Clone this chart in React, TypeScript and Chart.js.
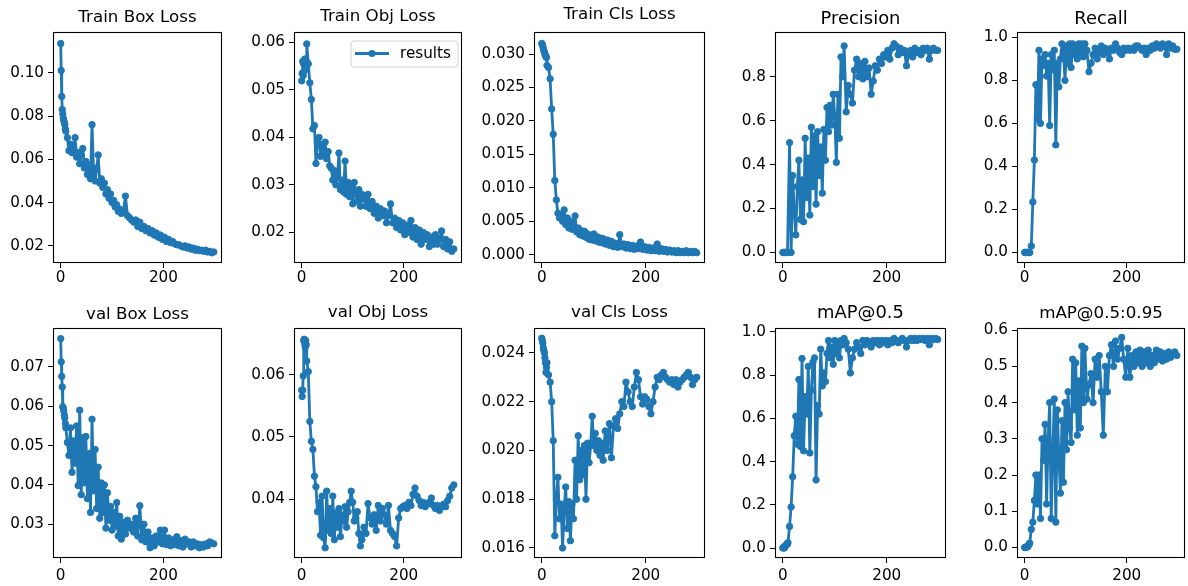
import React, { useEffect, useRef } from "react";
import { Chart, registerables } from "chart.js";

Chart.register(...registerables);

// ---------------- DATA ----------------
const EPOCHS = [
  0, 1, 2, 3, 4, 5, 6, 7, 8, 9,
  10, 13, 16, 19, 22, 25, 28, 31, 34, 37,
  40, 43, 46, 49, 52, 55, 58, 61, 64, 67,
  70, 73, 76, 79, 82, 85, 88, 91, 94, 97,
  100, 103, 106, 109, 112, 115, 118,
  122, 126, 130, 134, 138, 142, 146, 150, 154, 158,
  162, 166, 170, 174, 178, 182, 186, 190, 194, 198,
  202, 206, 210, 214, 218, 222, 226, 230, 234, 238,
  242, 246, 250, 254, 258, 262, 266, 270, 274, 278,
  282, 286, 290, 294, 298,
];

const TRAIN_BOX_LOSS = [
  0.1135, 0.101, 0.089, 0.083, 0.081, 0.079, 0.078, 0.077, 0.076, 0.074,
  0.073, 0.07, 0.064, 0.067, 0.063, 0.065, 0.07, 0.061, 0.063, 0.058,
  0.062, 0.065, 0.056, 0.059, 0.053, 0.057, 0.051, 0.076, 0.054, 0.05,
  0.056, 0.062, 0.049, 0.051, 0.047, 0.049, 0.044, 0.046, 0.042, 0.044,
  0.04, 0.041, 0.038, 0.039, 0.036, 0.037, 0.035,
  0.036, 0.043, 0.034, 0.033, 0.032, 0.031, 0.032, 0.029, 0.031, 0.028,
  0.029, 0.027, 0.028, 0.026, 0.027, 0.025, 0.026, 0.024, 0.025, 0.023,
  0.024, 0.022, 0.023, 0.0215, 0.022, 0.021, 0.0205, 0.0205, 0.02, 0.0195,
  0.02, 0.019, 0.0195, 0.0185, 0.019, 0.018, 0.0185, 0.0178, 0.018, 0.0175,
  0.018, 0.0172, 0.0175, 0.0168, 0.0172,
];

const TRAIN_OBJ_LOSS = [
  0.0519, 0.0535, 0.056, 0.053, 0.0555, 0.054, 0.0565, 0.055, 0.0545, 0.056,
  0.0597, 0.0555, 0.0515, 0.048, 0.0418, 0.0425, 0.0345, 0.0392, 0.04, 0.036,
  0.0385, 0.0365, 0.039, 0.0355, 0.037, 0.034, 0.0335, 0.031, 0.033, 0.03,
  0.0315, 0.0367, 0.029, 0.031, 0.0285, 0.035, 0.028, 0.0305, 0.0275, 0.0295,
  0.026, 0.0305, 0.028, 0.0265, 0.029, 0.0255, 0.028,
  0.027, 0.0255, 0.028, 0.025, 0.0265, 0.024, 0.0255, 0.023, 0.025, 0.0235,
  0.0245, 0.022, 0.0235, 0.026, 0.022, 0.023, 0.021, 0.0225, 0.0205, 0.022,
  0.0195, 0.0215, 0.02, 0.0225, 0.019, 0.021, 0.0185, 0.0205, 0.0175, 0.02,
  0.0185, 0.0195, 0.017, 0.019, 0.0175, 0.0195, 0.0175, 0.0185, 0.0203, 0.017,
  0.0185, 0.0165, 0.018, 0.016, 0.0165,
];

const TRAIN_CLS_LOSS = [
  0.0316, 0.0314, 0.0312, 0.0308, 0.0305, 0.0303, 0.03, 0.0298, 0.0296, 0.0295,
  0.0283, 0.028, 0.0263, 0.0218, 0.018, 0.0111, 0.0082, 0.0062, 0.0055, 0.006,
  0.005, 0.0067, 0.0045, 0.0055, 0.004, 0.005, 0.0038, 0.0043, 0.0058, 0.0034,
  0.004, 0.003, 0.0036, 0.0028, 0.0035, 0.0026, 0.0031, 0.0023, 0.0029, 0.0022,
  0.0031, 0.0021, 0.0027, 0.0019, 0.0025, 0.0018, 0.0024,
  0.0016, 0.0022, 0.0014, 0.002, 0.0012, 0.0017, 0.0011, 0.003, 0.0012, 0.0016,
  0.001, 0.0015, 0.0009, 0.0014, 0.0008, 0.0013, 0.0009, 0.0019, 0.0008, 0.0012,
  0.0007, 0.0011, 0.0006, 0.001, 0.0006, 0.0016, 0.0005, 0.0009, 0.0005, 0.0008,
  0.0004, 0.0007, 0.0004, 0.0006, 0.0003, 0.0006, 0.0003, 0.0005, 0.0003, 0.0006,
  0.0003, 0.0005, 0.0003, 0.0005, 0.0003,
];

const PRECISION = [
  0, 0, 0, 0, 0, 0, 0, 0, 0, 0,
  0, 0.5, 0.0, 0.35, 0.19, 0.08, 0.3, 0.42, 0.15, 0.33,
  0.14, 0.52, 0.25, 0.43, 0.17, 0.57, 0.3, 0.53, 0.22, 0.55,
  0.35, 0.48, 0.27, 0.56, 0.42, 0.66, 0.55, 0.67, 0.58, 0.72,
  0.62, 0.41, 0.72, 0.52, 0.89, 0.8, 0.94,
  0.64, 0.76, 0.72, 0.68, 0.83, 0.88, 0.8, 0.86, 0.79, 0.87,
  0.8, 0.84, 0.72, 0.78, 0.85, 0.83, 0.88, 0.86, 0.9, 0.89,
  0.92, 0.88, 0.93, 0.95, 0.94, 0.9, 0.93, 0.91, 0.92, 0.85,
  0.9, 0.92, 0.89, 0.93, 0.91, 0.92, 0.9, 0.93, 0.92, 0.93,
  0.88, 0.92, 0.93, 0.92, 0.92,
];

const RECALL = [
  0, 0, 0, 0, 0, 0, 0, 0, 0, 0,
  0, 0.03, 0.235, 0.43, 0.78, 0.62, 0.94, 0.6, 0.9, 0.87,
  0.92, 0.82, 0.88, 0.59, 0.92, 0.85, 0.94, 0.5, 0.88, 0.77,
  0.9, 0.97, 0.93, 0.8, 0.96, 0.88, 0.97, 0.86, 0.97, 0.92,
  0.96, 0.9, 0.97, 0.93, 0.97, 0.91, 0.97,
  0.94, 0.84, 0.88, 0.92, 0.95, 0.9, 0.93, 0.96, 0.92, 0.95,
  0.93, 0.9, 0.95, 0.94, 0.97, 0.95, 0.93, 0.92, 0.95, 0.94,
  0.95, 0.94, 0.95, 0.94, 0.96, 0.96, 0.95, 0.94, 0.95, 0.92,
  0.95, 0.94, 0.96, 0.95, 0.97, 0.96, 0.95, 0.97, 0.96, 0.92,
  0.97, 0.95, 0.96, 0.945, 0.945,
];

const VAL_BOX_LOSS = [
  0.0772, 0.0713, 0.0676, 0.0649, 0.0599, 0.0595, 0.0588, 0.0578, 0.057, 0.0556,
  0.0545, 0.0508, 0.0475, 0.0545, 0.0432, 0.0512, 0.0455, 0.055, 0.0398, 0.059,
  0.0375, 0.052, 0.0405, 0.0523, 0.0365, 0.048, 0.033, 0.0567, 0.0385, 0.049,
  0.034, 0.0445, 0.0315, 0.0405, 0.033, 0.04, 0.029, 0.038, 0.031, 0.0345,
  0.0285, 0.033, 0.0295, 0.0355, 0.027, 0.032, 0.0262,
  0.0305, 0.0275, 0.031, 0.029, 0.03, 0.028, 0.0315, 0.027, 0.0347, 0.026,
  0.03, 0.0255, 0.028, 0.024, 0.0265, 0.0245, 0.027, 0.0255, 0.0285, 0.025,
  0.0285, 0.0248, 0.0265, 0.0245, 0.026, 0.0248, 0.0268, 0.0245, 0.0258, 0.0242,
  0.0262, 0.025, 0.0255, 0.0242, 0.0255, 0.0245, 0.025, 0.024, 0.0248, 0.0242,
  0.025, 0.0245, 0.0255, 0.0252, 0.025,
];

const VAL_OBJ_LOSS = [
  0.0575, 0.0565, 0.0575, 0.0598, 0.0655, 0.0657, 0.065, 0.0645, 0.0655, 0.0648,
  0.0622, 0.0605, 0.0525, 0.0493, 0.048, 0.0437, 0.042, 0.038, 0.0395, 0.0342,
  0.0405, 0.0338, 0.0322, 0.0413, 0.035, 0.0385, 0.0345, 0.0405, 0.0335, 0.0378,
  0.0355, 0.0385, 0.034, 0.0375, 0.0365, 0.0388, 0.0355, 0.038, 0.0395, 0.0413,
  0.0395, 0.0365, 0.037, 0.038, 0.0345, 0.0325, 0.0335,
  0.0355, 0.0345, 0.0393, 0.037, 0.036, 0.0375, 0.035, 0.039, 0.0365, 0.0385,
  0.0375, 0.036, 0.039, 0.035, 0.0345, 0.034, 0.0325, 0.037, 0.0385, 0.0388,
  0.039, 0.0385, 0.0395, 0.039, 0.0408, 0.0418, 0.0405, 0.0398, 0.039, 0.0395,
  0.0388, 0.0392, 0.0395, 0.0402, 0.039, 0.0385, 0.039, 0.0382, 0.0388, 0.0392,
  0.0388, 0.0398, 0.0405, 0.0418, 0.0423,
];

const VAL_CLS_LOSS = [
  0.0246, 0.0245, 0.0244, 0.0242, 0.0241, 0.024, 0.0238, 0.0236, 0.0232, 0.0234,
  0.0236, 0.0231, 0.0228, 0.022, 0.0204, 0.0165, 0.018, 0.0189, 0.0172, 0.0178,
  0.016, 0.0176, 0.0185, 0.0168, 0.0179, 0.0163, 0.0178, 0.0172, 0.0196, 0.018,
  0.0206, 0.0188, 0.02, 0.019, 0.0202, 0.018, 0.0203, 0.0195, 0.0202, 0.0214,
  0.0202, 0.0207, 0.02, 0.0204, 0.0198, 0.0203, 0.0196,
  0.0208, 0.02, 0.0211, 0.0197, 0.021, 0.0213, 0.0209, 0.0215, 0.022, 0.0218,
  0.0228, 0.0224, 0.022, 0.0218, 0.0226, 0.0232, 0.0229, 0.0222, 0.0219, 0.0222,
  0.0221, 0.0218, 0.0215, 0.022, 0.0226, 0.023, 0.0229, 0.0231, 0.0232, 0.023,
  0.0229, 0.0228, 0.0229, 0.0227, 0.0229, 0.0226, 0.0228, 0.0229, 0.023, 0.0231,
  0.0232, 0.023, 0.0227, 0.0229, 0.023,
];

const MAP_50 = [
  0.0, 0.003, 0.005, 0.0, 0.008, 0.01, 0.012, 0.015, 0.02, 0.018,
  0.025, 0.1, 0.19, 0.33, 0.52, 0.61, 0.48, 0.78, 0.47, 0.877,
  0.45, 0.7, 0.62, 0.84, 0.44, 0.73, 0.86, 0.88, 0.315, 0.66,
  0.62, 0.92, 0.75, 0.81, 0.77, 0.9, 0.96, 0.88, 0.93, 0.85,
  0.96, 0.9, 0.95, 0.88, 0.96, 0.94, 0.97,
  0.95, 0.92, 0.81, 0.88, 0.92, 0.95, 0.93, 0.9, 0.96, 0.94,
  0.96, 0.95, 0.93, 0.96, 0.95, 0.96, 0.94, 0.96, 0.95, 0.96,
  0.94, 0.96, 0.95, 0.97, 0.96, 0.95, 0.96, 0.97, 0.96, 0.93,
  0.96, 0.97, 0.96, 0.97, 0.96, 0.97, 0.965, 0.97, 0.96, 0.97,
  0.94, 0.97, 0.965, 0.97, 0.965,
];

const MAP_50_95 = [
  0, 0, 0.001, 0, 0.002, 0.003, 0.002, 0.005, 0.008, 0.01,
  0.012, 0.05, 0.07, 0.13, 0.2, 0.12, 0.2, 0.08, 0.3, 0.24,
  0.34, 0.12, 0.3, 0.4, 0.08, 0.25, 0.41, 0.07, 0.38, 0.25,
  0.15, 0.35, 0.18, 0.4, 0.27, 0.43, 0.33, 0.29, 0.52, 0.38,
  0.51, 0.31, 0.46, 0.33, 0.556, 0.4, 0.55,
  0.41, 0.45, 0.48, 0.4, 0.52, 0.47, 0.53, 0.43, 0.31, 0.5,
  0.43, 0.53, 0.56, 0.5, 0.57, 0.52, 0.55, 0.58, 0.52, 0.47,
  0.55, 0.47, 0.53, 0.5, 0.54, 0.51, 0.545, 0.5, 0.54, 0.51,
  0.545, 0.5, 0.53, 0.51, 0.545, 0.52, 0.54, 0.515, 0.535, 0.52,
  0.54, 0.525, 0.535, 0.54, 0.53,
];

const X_TICKS = [0, 200];
const TICKS_TRAIN_BOX = [0.02, 0.04, 0.06, 0.08, 0.1];
const TICKS_TRAIN_OBJ = [0.02, 0.03, 0.04, 0.05, 0.06];
const TICKS_TRAIN_CLS = [0, 0.005, 0.01, 0.015, 0.02, 0.025, 0.03];
const TICKS_PRECISION = [0, 0.2, 0.4, 0.6, 0.8];
const TICKS_UNIT = [0, 0.2, 0.4, 0.6, 0.8, 1.0];
const TICKS_VAL_BOX = [0.03, 0.04, 0.05, 0.06, 0.07];
const TICKS_VAL_OBJ = [0.04, 0.05, 0.06];
const TICKS_VAL_CLS = [0.016, 0.018, 0.02, 0.022, 0.024];
const TICKS_MAP5095 = [0, 0.1, 0.2, 0.3, 0.4, 0.5, 0.6];

// ---------------- LAYOUT / STYLE ----------------
const BLUE = "#1f77b4";
const FONT = "'DejaVu Sans', sans-serif";
const Y_AXIS_W = 53;
const TITLE_H = 32;
const X_AXIS_H = 30;
const RIGHT_PAD = 4;
const TICK_FONT = 15.2;
const TITLE_FONT = 16.7;
const TITLE_FONT_BIG = 17.9;

interface PanelSpec {
  title: string;
  values: number[];
  yTicks: number[];
  decimals: number;
  yMin: number;
  yMax: number;
  left: number;
  top: number;
  width: number;
  height: number;
  titleCenter: number;
  titleSize: number;
  xLabelPad: number;
  legend?: boolean;
}

const PANELS: PanelSpec[] = [
  { title: "Train Box Loss", values: TRAIN_BOX_LOSS, yTicks: TICKS_TRAIN_BOX, decimals: 2, yMin: 0.0121, yMax: 0.1188, left: 53, top: 32, width: 170, height: 231, titleCenter: 17.8, titleSize: TITLE_FONT, xLabelPad: 1.3 },
  { title: "Train Obj Loss", values: TRAIN_OBJ_LOSS, yTicks: TICKS_TRAIN_OBJ, decimals: 2, yMin: 0.01354, yMax: 0.0622, left: 294, top: 32, width: 169, height: 231, titleCenter: 16.7, titleSize: TITLE_FONT, xLabelPad: 1.3, legend: true },
  { title: "Train Cls Loss", values: TRAIN_CLS_LOSS, yTicks: TICKS_TRAIN_CLS, decimals: 3, yMin: -0.00124, yMax: 0.0333, left: 534, top: 32, width: 172, height: 231, titleCenter: 15, titleSize: TITLE_FONT, xLabelPad: 1.3 },
  { title: "Precision", values: PRECISION, yTicks: TICKS_PRECISION, decimals: 1, yMin: -0.048, yMax: 1.0036, left: 775, top: 32, width: 172, height: 231, titleCenter: 19.3, titleSize: TITLE_FONT_BIG, xLabelPad: 1.3 },
  { title: "Recall", values: RECALL, yTicks: TICKS_UNIT, decimals: 1, yMin: -0.049, yMax: 1.025, left: 1017, top: 32, width: 169, height: 231, titleCenter: 19.3, titleSize: TITLE_FONT_BIG, xLabelPad: 1.3 },
  { title: "val Box Loss", values: VAL_BOX_LOSS, yTicks: TICKS_VAL_BOX, decimals: 2, yMin: 0.0214, yMax: 0.0799, left: 53, top: 328, width: 170, height: 230, titleCenter: 18.5, titleSize: TITLE_FONT, xLabelPad: 3.8 },
  { title: "val Obj Loss", values: VAL_OBJ_LOSS, yTicks: TICKS_VAL_OBJ, decimals: 2, yMin: 0.03056, yMax: 0.0675, left: 294, top: 328, width: 169, height: 230, titleCenter: 16.2, titleSize: TITLE_FONT, xLabelPad: 3.8 },
  { title: "val Cls Loss", values: VAL_CLS_LOSS, yTicks: TICKS_VAL_CLS, decimals: 3, yMin: 0.01559, yMax: 0.02502, left: 534, top: 328, width: 172, height: 230, titleCenter: 16.2, titleSize: TITLE_FONT, xLabelPad: 3.8 },
  { title: "mAP@0.5", values: MAP_50, yTicks: TICKS_UNIT, decimals: 1, yMin: -0.046, yMax: 1.018, left: 775, top: 328, width: 172, height: 230, titleCenter: 17.3, titleSize: TITLE_FONT_BIG, xLabelPad: 3.8 },
  { title: "mAP@0.5:0.95", values: MAP_50_95, yTicks: TICKS_MAP5095, decimals: 1, yMin: -0.029, yMax: 0.606, left: 1017, top: 328, width: 169, height: 230, titleCenter: 17.3, titleSize: TITLE_FONT, xLabelPad: 3.8 },
];

const framePlugin = {
  id: "frame",
  afterDatasetsDraw(chart: any) {
    const { ctx, chartArea } = chart;
    const l = Math.round(chartArea.left) + 0.5;
    const t = Math.round(chartArea.top) + 0.5;
    const r = Math.round(chartArea.right) - 0.5;
    const b = Math.round(chartArea.bottom) - 0.5;
    ctx.save();
    ctx.strokeStyle = "#000";
    ctx.lineWidth = 1.1;
    ctx.strokeRect(l, t, r - l, b - t);
    ctx.restore();
  },
};

const legendPlugin = {
  id: "resultsLegend",
  afterDraw(chart: any) {
    const { ctx, chartArea } = chart;
    const x0 = chartArea.left + 57;
    const y0 = chartArea.top + 9;
    const w = 107;
    const h = 26;
    const rad = 3;
    ctx.save();
    ctx.beginPath();
    ctx.moveTo(x0 + rad, y0);
    ctx.arcTo(x0 + w, y0, x0 + w, y0 + h, rad);
    ctx.arcTo(x0 + w, y0 + h, x0, y0 + h, rad);
    ctx.arcTo(x0, y0 + h, x0, y0, rad);
    ctx.arcTo(x0, y0, x0 + w, y0, rad);
    ctx.closePath();
    ctx.fillStyle = "rgba(255,255,255,0.8)";
    ctx.fill();
    ctx.strokeStyle = "#d0d0d0";
    ctx.lineWidth = 1;
    ctx.stroke();
    const cy = y0 + 12.5;
    ctx.strokeStyle = BLUE;
    ctx.lineWidth = 2.8;
    ctx.beginPath();
    ctx.moveTo(x0 + 4, cy);
    ctx.lineTo(x0 + 38, cy);
    ctx.stroke();
    ctx.fillStyle = BLUE;
    ctx.beginPath();
    ctx.arc(x0 + 21, cy, 3.6, 0, Math.PI * 2);
    ctx.fill();
    ctx.fillStyle = "#000";
    ctx.font = `${TICK_FONT}px ${FONT}`;
    ctx.textBaseline = "middle";
    ctx.textAlign = "left";
    ctx.fillText("results", x0 + 49, cy + 0.5);
    ctx.restore();
  },
};

function Panel({ spec }: { spec: PanelSpec }) {
  const ref = useRef<HTMLCanvasElement>(null);
  const cw = Y_AXIS_W + spec.width + RIGHT_PAD;
  const ch = TITLE_H + spec.height + X_AXIS_H;

  useEffect(() => {
    const lh = spec.titleSize * 1.2;
    const padTop = spec.titleCenter - lh / 2;
    const padBottom = TITLE_H - lh - padTop;
    const tickFont = { family: FONT, size: TICK_FONT, weight: "normal" as const };
    const chart = new Chart(ref.current!, {
      type: "line",
      data: {
        datasets: [
          {
            label: "results",
            data: EPOCHS.map((e, i) => ({ x: e, y: spec.values[i] })),
            borderColor: BLUE,
            backgroundColor: BLUE,
            borderWidth: 2.8,
            borderJoinStyle: "round",
            borderCapStyle: "round",
            pointRadius: 3.2,
            pointBorderWidth: 1,
            pointBackgroundColor: BLUE,
            pointBorderColor: BLUE,
            tension: 0,
            fill: false,
          },
        ],
      },
      options: {
        responsive: false,
        maintainAspectRatio: false,
        animation: false,
        events: [],
        layout: { padding: { left: 0, right: RIGHT_PAD, top: 0, bottom: 0 } },
        plugins: {
          legend: { display: false },
          tooltip: { enabled: false },
          title: {
            display: true,
            text: spec.title,
            fullSize: false,
            color: "#000",
            font: { family: FONT, size: spec.titleSize, weight: "normal", lineHeight: 1.2 },
            padding: { top: padTop, bottom: padBottom },
          },
        },
        scales: {
          x: {
            type: "linear",
            min: -15,
            max: 314,
            afterBuildTicks: (s: any) => {
              s.ticks = X_TICKS.map((v) => ({ value: v }));
            },
            afterFit: (s: any) => {
              s.height = X_AXIS_H;
            },
            ticks: {
              color: "#000",
              font: tickFont,
              padding: spec.xLabelPad,
              maxRotation: 0,
              autoSkip: false,
              callback: (v: any) => String(v),
            },
            grid: { drawOnChartArea: false, drawTicks: true, tickLength: 5, color: "#000", lineWidth: 1 },
            border: { display: false },
          },
          y: {
            type: "linear",
            min: spec.yMin,
            max: spec.yMax,
            afterBuildTicks: (s: any) => {
              s.ticks = spec.yTicks.map((v) => ({ value: v }));
            },
            afterFit: (s: any) => {
              s.width = Y_AXIS_W;
            },
            ticks: {
              color: "#000",
              font: tickFont,
              padding: 4,
              autoSkip: false,
              callback: (v: any) => Number(v).toFixed(spec.decimals),
            },
            grid: { drawOnChartArea: false, drawTicks: true, tickLength: 5, color: "#000", lineWidth: 1 },
            border: { display: false },
          },
        },
      },
      plugins: spec.legend ? [framePlugin, legendPlugin] : [framePlugin],
    } as any);
    return () => chart.destroy();
  }, []);

  return (
    <canvas
      ref={ref}
      width={cw}
      height={ch}
      style={{
        position: "absolute",
        left: spec.left - Y_AXIS_W,
        top: spec.top - TITLE_H,
        width: cw,
        height: ch,
      }}
    />
  );
}

export default function App() {
  return (
    <div
      style={{
        position: "absolute",
        left: 0,
        top: 0,
        width: 1188,
        height: 586,
        overflow: "hidden",
        background: "#fff",
      }}
    >
      {PANELS.map((p) => (
        <Panel key={p.title} spec={p} />
      ))}
    </div>
  );
}
